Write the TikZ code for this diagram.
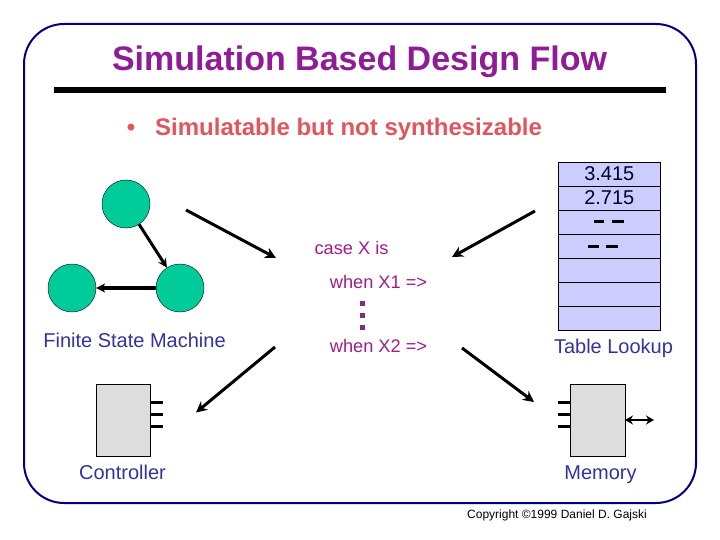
\documentclass[tikz,border=0pt]{standalone}
\usepackage{fontspec}
\setmainfont{Liberation Sans}
\usetikzlibrary{arrows.meta}

\definecolor{framecol}{HTML}{000080}
\definecolor{titlecol}{HTML}{8E1C96}
\definecolor{bulletcol}{HTML}{E0565C}
\definecolor{casecol}{HTML}{A01C8C}
\definecolor{labelcol}{HTML}{333399}
\definecolor{dotcol}{HTML}{7F2F7F}
\definecolor{tablecol}{HTML}{CCCCFF}
\definecolor{statecol}{HTML}{00CC99}
\definecolor{boxcol}{HTML}{DDDDDD}

\tikzset{
    state/.style={circle, draw, fill=statecol, minimum size=48pt, inner sep=0pt},
    tablerow/.style={rectangle, draw, fill=tablecol, minimum width=102.5pt, minimum height=24pt, inner sep=0pt, text=black!85!blue, font=\fontsize{20}{22}\selectfont},
    block/.style={rectangle, draw, fill=boxcol, minimum width=54.5pt, minimum height=72.5pt, inner sep=0pt},
    bigarrow/.style={line width=3pt, -{Stealth[length=11pt, width=11pt]}},
    pinline/.style={line width=3pt},
    caselabel/.style={text=casecol, font=\fontsize{18.2}{20}\selectfont, inner sep=0pt},
    partlabel/.style={text=labelcol, font=\fontsize{20}{22}\selectfont, inner sep=0pt},
    casedot/.style={rectangle, fill=dotcol, minimum size=5pt, inner sep=0pt},
}

\begin{document}
\begin{tikzpicture}[x=1pt, y=-1pt]
    \useasboundingbox (0, 0) rectangle (720, 540);
    \draw[framecol, line width=2pt, rounded corners=40pt] (24, 24) rectangle (696, 503);

    \node[text=titlecol, font=\fontsize{34}{36}\selectfont\bfseries, inner sep=0pt] (title) at (359.5, 62) {Simulation Based Design Flow};
    \fill[black] (54, 87) rectangle (666, 93);
    \node[text=bulletcol, font=\fontsize{24}{26}\selectfont\bfseries, inner sep=0pt] (bullet) at (131, 130) {•};
    \node[text=bulletcol, font=\fontsize{24}{26}\selectfont\bfseries, inner sep=0pt, anchor=west] (subtitle) at (155, 129) {Simulatable but not synthesizable};

    % finite state machine
    \node[state] (s1) at (126, 204) {};
    \node[state] (s2) at (180, 288) {};
    \node[state] (s3) at (72, 288) {};
    \draw[line width=3pt, -{Stealth[length=9pt, width=9pt]}] (s1) -- (s2);
    \draw[line width=3.5pt, -{Stealth[length=9pt, width=9pt]}] (s2) -- (s3);
    \node[partlabel] (fsm) at (134.5, 340) {Finite State Machine};

    % table
    \foreach \i/\txt in {1/3.415, 2/2.715, 3/, 4/, 5/, 6/, 7/}
        \node[tablerow] (row\i) at (609.3, 150 + 24 * \i) {\txt};
    \draw[line width=3pt] (594, 222) -- (604, 222);
    \draw[line width=3pt] (612, 222) -- (624, 222);
    \draw[line width=3pt] (588, 246) -- (599, 246);
    \draw[line width=3pt] (606, 246) -- (618, 246);
    \node[partlabel] (lookup) at (613.5, 348) {Table Lookup};

    % case statement
    \node[caselabel] (case) at (351.5, 248) {case X is};
    \node[caselabel] (when1) at (378.5, 282) {when X1 =>};
    \node[caselabel] (when2) at (378.5, 346) {when X2 =>};
    \foreach \y in {303, 315, 327}
        \node[casedot] at (362, \y) {};

    % controller
    \node[block] (ctrl) at (123.4, 420.3) {};
    \foreach \y in {402, 414, 426}
        \draw[pinline] (ctrl.east |- 0, \y) -- ++(12, 0);
    \node[partlabel] (ctrllabel) at (122.5, 472) {Controller};

    % memory
    \node[block] (mem) at (597.5, 420.3) {};
    \foreach \y in {402, 414, 426}
        \draw[pinline] (mem.west |- 0, \y) -- ++(-12, 0);
    \coordinate (bus) at (654, 420);
    \draw[line width=2.2pt, {Stealth[length=8pt, width=9pt]}-{Stealth[length=8pt, width=9pt]}] (mem.east |- bus) -- (bus);
    \node[partlabel] (memlabel) at (600.5, 474.5) {Memory};

    % big arrows
    \coordinate (a1) at (186, 210);
    \coordinate (b1) at (276, 258);
    \coordinate (a2) at (535, 211);
    \coordinate (b2) at (452, 257);
    \coordinate (a3) at (275, 347);
    \coordinate (b3) at (196, 412.5);
    \coordinate (a4) at (462, 348);
    \coordinate (b4) at (534, 402);
    \foreach \i in {1, 2, 3, 4}
        \draw[bigarrow] (a\i) -- (b\i);

    \node[font=\fontsize{12}{14}\selectfont, inner sep=0pt] (copyright) at (557, 515) {Copyright ©1999 Daniel D. Gajski};
\end{tikzpicture}
\end{document}
